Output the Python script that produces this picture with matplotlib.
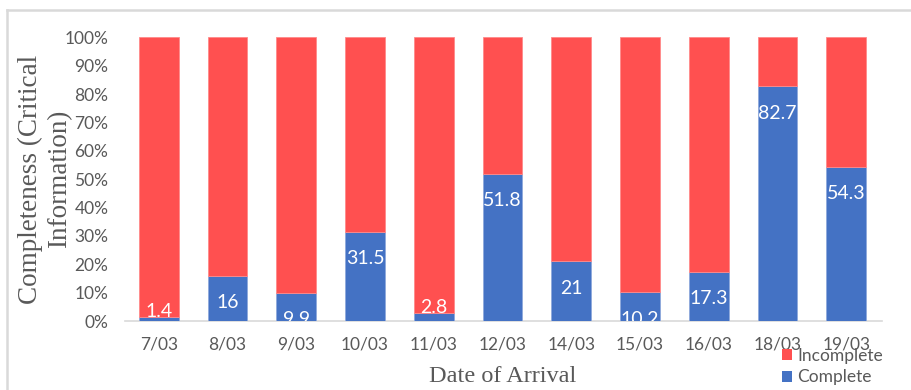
import numpy as np
import matplotlib
matplotlib.use("Agg")
import matplotlib.pyplot as plt
from matplotlib.patches import Patch
from matplotlib.lines import Line2D

dates = ["7/03", "8/03", "9/03", "10/03", "11/03", "12/03", "14/03", "15/03", "16/03", "18/03", "19/03"]
complete = [1.4, 16, 9.9, 31.5, 2.8, 51.8, 21, 10.2, 17.3, 82.7, 54.3]
incomplete = [98.6, 84, 90.1, 68.5, 97.2, 48.2, 79, 89.8, 82.7, 17.3, 45.7]

blue = "#4472C4"
red = "#FF5050"
grey = "#595959"
sans = ["Lato", "DejaVu Sans"]
serif = ["Liberation Serif", "DejaVu Serif"]

fig = plt.figure(figsize=(9.12, 3.9), dpi=100)
ax = fig.add_axes([125 / 912, 69 / 390, 757 / 912, 283.7 / 390])

x = np.arange(len(dates))
w = 0.58
ax.bar(x, complete, w, color=blue, edgecolor="#8FA9DC", linewidth=0.6, zorder=2)
ax.bar(x, incomplete, w, bottom=complete, color=red, edgecolor="#FF8A8A", linewidth=0.6, zorder=2)

for i, v in enumerate(complete):
    if v >= 5:
        ax.text(i, v - 9.5, "%g" % v, ha="center", va="center", color="white",
                fontsize=14, family=sans, clip_on=True, zorder=3)
    else:
        ax.text(i, v, "%g" % v, ha="center", va="baseline", color="white",
                fontsize=14, family=sans, clip_on=True, zorder=3)

ax.set_xlim(-0.49, 10.52)
ax.set_ylim(0, 100)
ax.set_yticks(np.arange(0, 101, 10))
ax.set_yticklabels(["%d%%" % t for t in range(0, 101, 10)])
ax.set_xticks(x)
ax.set_xticklabels(dates)
for lab in ax.get_xticklabels() + ax.get_yticklabels():
    lab.set_family(sans)
    lab.set_fontsize(12.5)
    lab.set_color(grey)
ax.tick_params(axis="both", length=0)
ax.tick_params(axis="y", pad=12)
ax.tick_params(axis="x", pad=11)
for s in ["top", "right", "left"]:
    ax.spines[s].set_visible(False)
ax.spines["bottom"].set_color("#D9D9D9")
ax.spines["bottom"].set_linewidth(1.2)
ax.spines["bottom"].set_zorder(1)

fig.text(45 / 912, 1 - 179 / 390, "Completeness (Critical\nInformation)", rotation=90,
         ha="center", va="center", ma="center", fontsize=19.5, family=serif,
         color=grey, linespacing=1.2)
fig.text(503 / 912, 1 - 377 / 390, "Date of Arrival", ha="center", va="center",
         fontsize=17.5, family=serif, color=grey)

handles = [Patch(facecolor=red, edgecolor="none"), Patch(facecolor=blue, edgecolor="none")]
fig.legend(handles, ["Incomplete", "Complete"], loc="upper left",
           bbox_to_anchor=(782 / 912, 1 - 348 / 390), frameon=False,
           prop={"family": sans, "size": 12.5}, labelcolor=grey,
           handlelength=0.6, handleheight=0.6, handletextpad=0.3,
           labelspacing=0.3, borderpad=0, borderaxespad=0)

# light outer frame (top and left edge visible in the crop)
fig.add_artist(Line2D([7.5 / 912, 7.5 / 912], [0, 1 - 10 / 390], color="#D9D9D9", linewidth=1.8))
fig.add_artist(Line2D([7.5 / 912, 1], [1 - 10 / 390, 1 - 10 / 390], color="#D9D9D9", linewidth=1.8))

fig.savefig("out.png", dpi=100)
